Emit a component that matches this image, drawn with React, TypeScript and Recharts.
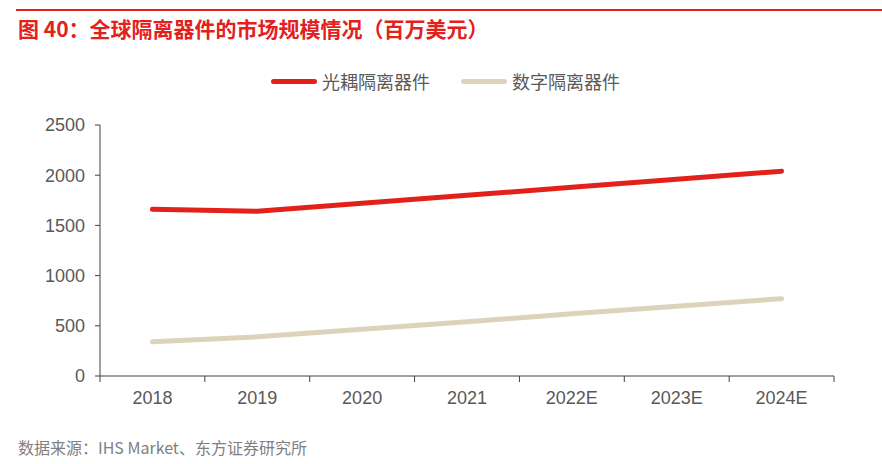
import React from "react";
import { LineChart, Line, XAxis, YAxis } from "recharts";

const years = ["2018", "2019", "2020", "2021", "2022E", "2023E", "2024E"];
const optocoupler = [1660, 1640, 1720, 1800, 1880, 1960, 2040];
const digital = [340, 390, 465, 540, 620, 695, 770];
const yTicks = [0, 500, 1000, 1500, 2000, 2500];

const seriesNames = ["光耦隔离器件", "数字隔离器件"];
const RED = "#E3211B";
const BEIGE = "#DDD3BA";
const AXIS = "#404040";
const TEXT = "#595959";
const FONT = '"Liberation Sans", Arial, "Noto Sans CJK SC", sans-serif';

const data = years.map((year, i) => ({
  year,
  optocoupler: optocoupler[i],
  digital: digital[i],
}));

const W = 882;
const H = 464;
const margin = { top: 125, right: 48, bottom: 58, left: 40 };
const yAxisWidth = 60;
const plotWidth = W - margin.left - margin.right - yAxisWidth;
const band = plotWidth / years.length;

const XTick = (props: any) => {
  const { x, y, payload, index } = props;
  return (
    <g>
      <line x1={x - band / 2} y1={y} x2={x - band / 2} y2={y + 6} stroke={AXIS} />
      {index === years.length - 1 && (
        <line x1={x + band / 2} y1={y} x2={x + band / 2} y2={y + 6} stroke={AXIS} />
      )}
      <text
        x={x}
        y={y + 28}
        textAnchor="middle"
        fill={TEXT}
        fontSize={18}
        fontFamily={FONT}
      >
        {payload.value}
      </text>
    </g>
  );
};

const LegendItem = ({ color, label, left }: any) => (
  <div
    style={{
      position: "absolute",
      left,
      top: 70,
      display: "flex",
      alignItems: "center",
      height: 22,
    }}
  >
    <div
      style={{
        width: 46,
        height: 5,
        borderRadius: 3,
        background: color,
        marginRight: 5,
      }}
    />
    <span style={{ fontSize: 18, color: TEXT, fontFamily: '"Noto Sans CJK SC", sans-serif' }}>
      {label}
    </span>
  </div>
);

export default function App() {
  return (
    <div
      style={{
        position: "absolute",
        left: 0,
        top: 0,
        width: W,
        height: H,
        background: "#fff",
        overflow: "hidden",
      }}
    >
      <div
        style={{
          position: "absolute",
          left: 16,
          top: 9,
          width: W - 16,
          height: 2,
          background: RED,
        }}
      />
      <div
        style={{
          position: "absolute",
          left: 18,
          top: 15,
          fontSize: 21,
          fontWeight: "bold",
          color: RED,
          fontFamily: '"Noto Sans CJK SC", sans-serif',
          lineHeight: "26px",
          whiteSpace: "nowrap",
        }}
      >
        图 40：全球隔离器件的市场规模情况（百万美元）
      </div>

      <LegendItem color={RED} label={seriesNames[0]} left={271} />
      <LegendItem color={BEIGE} label={seriesNames[1]} left={461} />

      <LineChart width={W} height={H} data={data} margin={margin}>
        <XAxis
          dataKey="year"
          height={30}
          padding={{ left: band / 2, right: band / 2 }}
          tickSize={0}
          tickMargin={0}
          tickLine={false}
          axisLine={{ stroke: AXIS }}
          tick={<XTick />}
          interval={0}
        />
        <YAxis
          width={yAxisWidth}
          domain={[0, 2500]}
          ticks={yTicks}
          tickSize={5}
          tickMargin={10}
          axisLine={{ stroke: AXIS }}
          tickLine={{ stroke: AXIS }}
          tick={{ fill: TEXT, fontSize: 18, fontFamily: FONT }}
        />
        <Line
          dataKey="optocoupler"
          name={seriesNames[0]}
          stroke={RED}
          strokeWidth={5}
          strokeLinecap="round"
          dot={false}
          activeDot={false}
          isAnimationActive={false}
        />
        <Line
          dataKey="digital"
          name={seriesNames[1]}
          stroke={BEIGE}
          strokeWidth={5}
          strokeLinecap="round"
          dot={false}
          activeDot={false}
          isAnimationActive={false}
        />
      </LineChart>

      <div
        style={{
          position: "absolute",
          left: 18,
          top: 436,
          fontSize: 16,
          color: "#808080",
          fontFamily: '"Noto Sans CJK SC", sans-serif',
          lineHeight: "22px",
          whiteSpace: "nowrap",
        }}
      >
        数据来源：IHS Market、东方证券研究所
      </div>
    </div>
  );
}
